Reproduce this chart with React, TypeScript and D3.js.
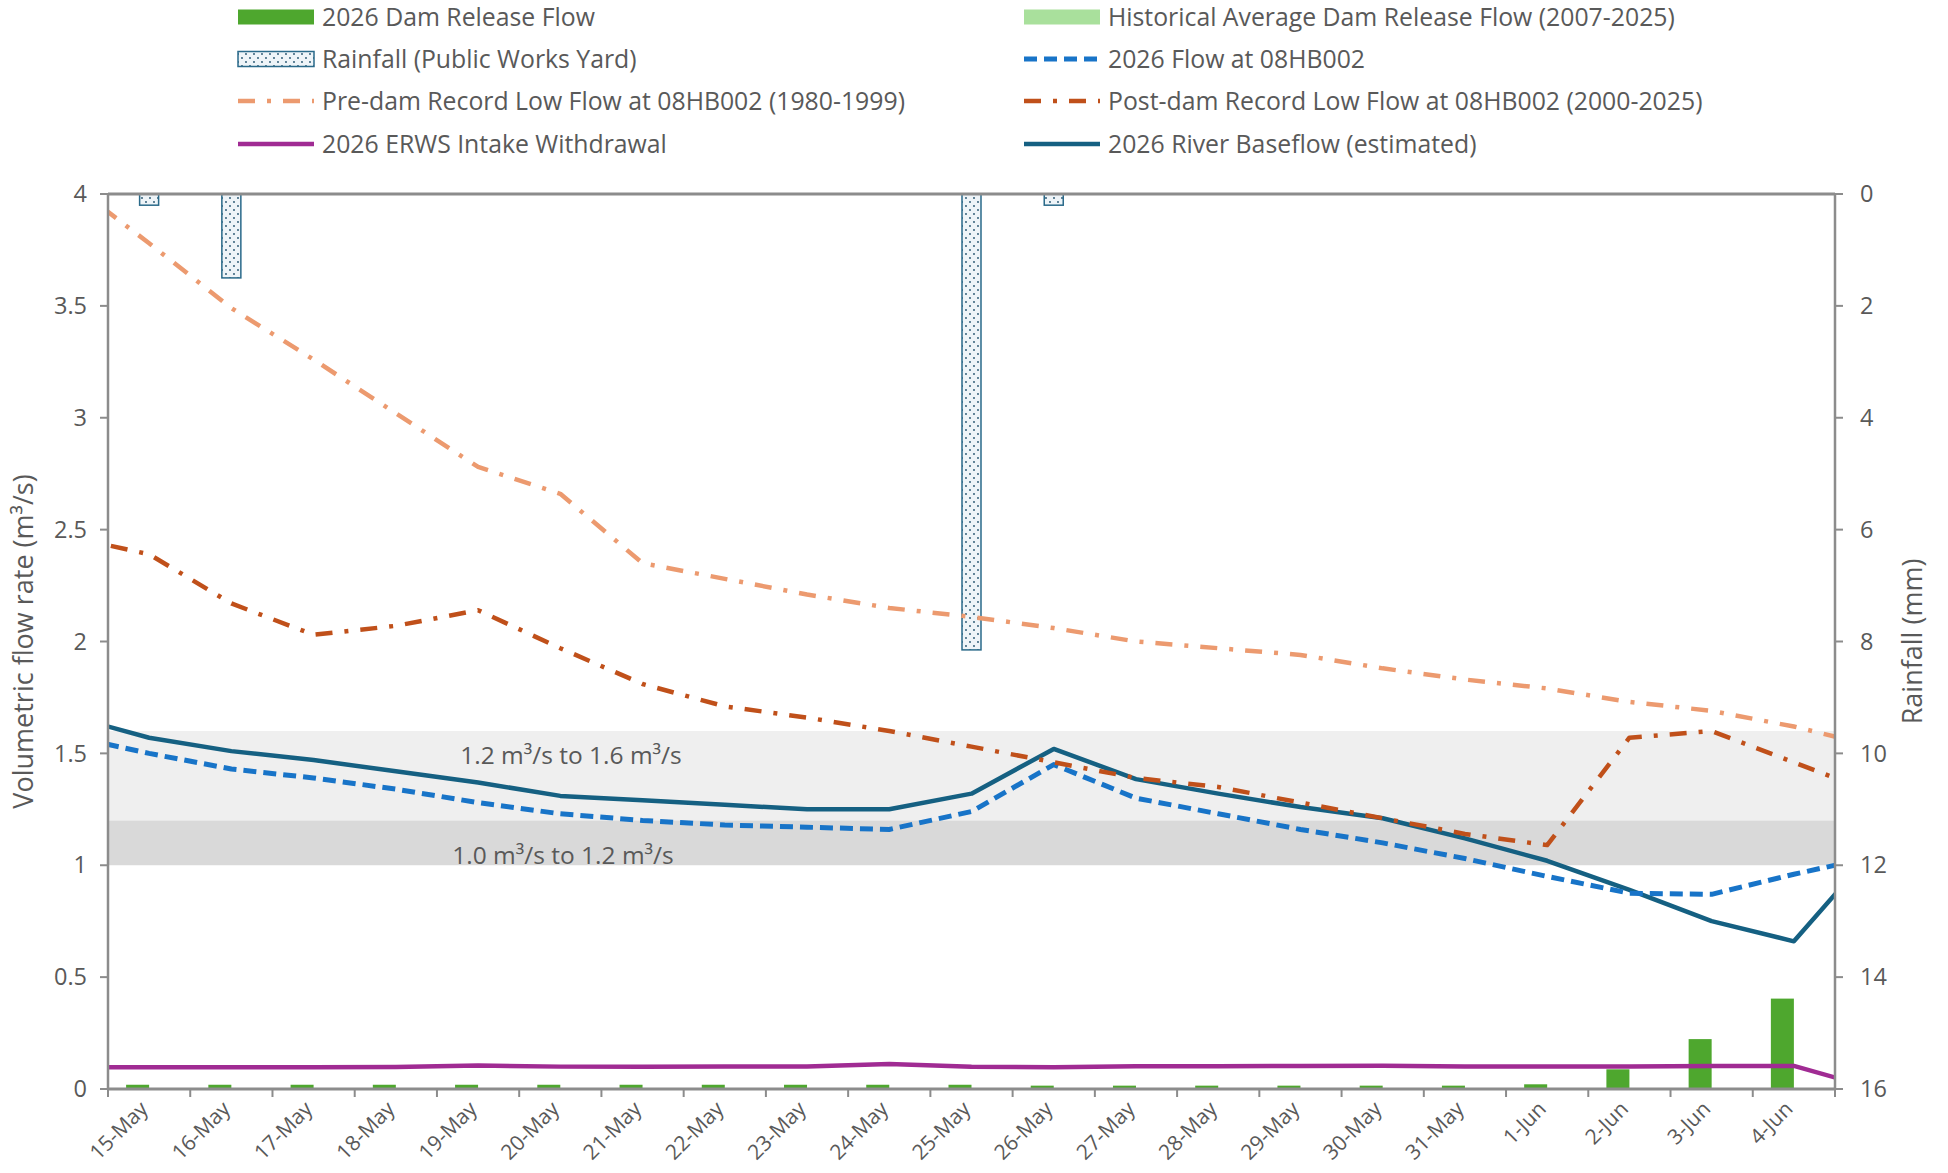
import React from 'react';
import * as d3 from 'd3';

// x categories (daily)
const categories = [
  '15-May', '16-May', '17-May', '18-May', '19-May', '20-May', '21-May', '22-May',
  '23-May', '24-May', '25-May', '26-May', '27-May', '28-May', '29-May', '30-May',
  '31-May', '1-Jun', '2-Jun', '3-Jun', '4-Jun',
];
// line series carry one extra day on each side (clipped at the plot edges)
const lineDates = ['14-May', ...categories, '5-Jun'];

// bars, m3/s
const damRelease = [
  0.019, 0.019, 0.019, 0.019, 0.019, 0.019, 0.019, 0.019, 0.019, 0.019, 0.019,
  0.015, 0.015, 0.015, 0.015, 0.015, 0.015, 0.021, 0.088, 0.223, 0.404,
];
const historicalAvgRelease = [
  0, 0, 0, 0, 0, 0, 0, 0, 0, 0, 0, 0, 0, 0, 0, 0, 0, 0, 0, 0, 0,
];
// rainfall, mm (secondary axis, reversed)
const rainfall = [
  0.2, 1.5, 0, 0, 0, 0, 0, 0, 0, 0, 8.15, 0.2, 0, 0, 0, 0, 0, 0, 0, 0, 0,
];

// lines, m3/s (14-May .. 5-Jun)
const flow08HB002 = [
  1.58, 1.5, 1.43, 1.39, 1.34, 1.28, 1.23, 1.2, 1.18, 1.17, 1.16, 1.24, 1.45,
  1.3, 1.23, 1.16, 1.1, 1.03, 0.95, 0.875, 0.87, 0.96, 1.04,
];
const preDamLow = [
  4.06, 3.78, 3.49, 3.26, 3.02, 2.78, 2.66, 2.35, 2.28, 2.21, 2.15, 2.11, 2.06,
  2.0, 1.97, 1.94, 1.88, 1.83, 1.79, 1.73, 1.69, 1.62, 1.53,
];
const postDamLow = [
  2.47, 2.39, 2.17, 2.03, 2.07, 2.14, 1.97, 1.81, 1.71, 1.66, 1.6, 1.53, 1.46,
  1.39, 1.35, 1.28, 1.21, 1.14, 1.09, 1.57, 1.6, 1.46, 1.32,
];
const erwsWithdrawal = [
  0.098, 0.097, 0.097, 0.097, 0.098, 0.105, 0.1, 0.1, 0.101, 0.101, 0.112, 0.099,
  0.097, 0.102, 0.102, 0.103, 0.104, 0.101, 0.101, 0.101, 0.103, 0.103, 0.0,
];
const riverBaseflow = [
  1.67, 1.57, 1.51, 1.47, 1.42, 1.37, 1.31, 1.29, 1.27, 1.25, 1.25, 1.32, 1.52,
  1.385, 1.32, 1.26, 1.21, 1.12, 1.02, 0.89, 0.75, 0.66, 1.08,
];

const leftTicks = [0, 0.5, 1, 1.5, 2, 2.5, 3, 3.5, 4];
const rightTicks = [0, 2, 4, 6, 8, 10, 12, 14, 16];

const bands = [
  { from: 1.2, to: 1.6, label: '1.2 m³/s to 1.6 m³/s', fill: '#efefef', labelAt: 1.49, labelX: 571 },
  { from: 1.0, to: 1.2, label: '1.0 m³/s to 1.2 m³/s', fill: '#d9d9d9', labelAt: 1.045, labelX: 563 },
];

const W = 1948;
const H = 1173;
const M = { left: 108, right: 1835, top: 194, bottom: 1089 };
const FONT = "'Open Sans', 'Noto Sans', sans-serif";
const TEXT = '#595959';
const AXIS = '#8c8c8c';

const C = {
  release: '#4ea72e',
  historical: '#a9e09c',
  rainFill: '#eef4f8',
  rainDot: '#1f4e6b',
  rainEdge: '#2a6a8a',
  flow: '#1874c8',
  pre: '#ec9a6f',
  post: '#c0501a',
  erws: '#a02b93',
  base: '#156082',
};

const lineStyles = {
  flow: { stroke: C.flow, width: 5, dash: '13 7' },
  pre: { stroke: C.pre, width: 4.5, dash: '17 12 4 12' },
  post: { stroke: C.post, width: 4.5, dash: '17 12 4 12' },
  erws: { stroke: C.erws, width: 4.5, dash: undefined },
  base: { stroke: C.base, width: 4.5, dash: undefined },
};

type LegendItem = { label: string; kind: 'rect' | 'rain' | 'line'; color?: string; style?: keyof typeof lineStyles };

const legendCols: LegendItem[][] = [
  [
    { label: '2026 Dam Release Flow', kind: 'rect', color: C.release },
    { label: 'Rainfall (Public Works Yard)', kind: 'rain' },
    { label: 'Pre-dam Record Low Flow at 08HB002 (1980-1999)', kind: 'line', style: 'pre' },
    { label: '2026 ERWS Intake Withdrawal', kind: 'line', style: 'erws' },
  ],
  [
    { label: 'Historical Average Dam Release Flow (2007-2025)', kind: 'rect', color: C.historical },
    { label: '2026 Flow at 08HB002', kind: 'line', style: 'flow' },
    { label: 'Post-dam Record Low Flow at 08HB002 (2000-2025)', kind: 'line', style: 'post' },
    { label: '2026 River Baseflow (estimated)', kind: 'line', style: 'base' },
  ],
];

export default function App() {
  const x = d3.scaleBand<string>().domain(categories).range([M.left, M.right]).padding(0);
  const xIdx = d3.scaleLinear().domain([-0.5, categories.length - 0.5]).range([M.left, M.right]);
  const y = d3.scaleLinear().domain([0, 4]).range([M.bottom, M.top]);
  const yR = d3.scaleLinear().domain([0, 16]).range([M.top, M.bottom]);
  const xCluster = d3.scaleBand<string>()
    .domain(['release', 'historical'])
    .range([0, x.bandwidth()])
    .paddingInner(0)
    .paddingOuter(0.787);
  const xRain = d3.scaleBand<string>()
    .domain(categories)
    .range([M.left, M.right])
    .paddingInner(0.769)
    .paddingOuter(0.3845);

  // index 0 of each line array is the day before the first category
  const line = d3.line<number>()
    .x((_, i) => xIdx(i - 1))
    .y((d) => y(d));

  const series: { key: keyof typeof lineStyles; values: number[] }[] = [
    { key: 'erws', values: erwsWithdrawal },
    { key: 'base', values: riverBaseflow },
    { key: 'flow', values: flow08HB002 },
    { key: 'pre', values: preDamLow },
    { key: 'post', values: postDamLow },
  ];

  const legendX = [238, 1024];
  const legendY = [17, 59, 101, 144];
  const swW = 76;

  return (
    <div style={{ position: 'absolute', left: 0, top: 0 }}>
      <svg width={W} height={H} style={{ display: 'block', background: '#fff' }} fontFamily={FONT}>
        <defs>
          <clipPath id="plot-clip">
            <rect x={M.left} y={M.top} width={M.right - M.left} height={M.bottom - M.top} />
          </clipPath>
          <pattern id="rain-dots" width={8} height={8} patternUnits="userSpaceOnUse">
            <rect width={8} height={8} fill={C.rainFill} />
            <circle cx={2} cy={2} r={0.9} fill={C.rainDot} />
            <circle cx={6} cy={6} r={0.9} fill={C.rainDot} />
          </pattern>
        </defs>

        {/* target bands */}
        {bands.map((b) => (
          <rect key={b.label} x={M.left} y={y(b.to)} width={M.right - M.left}
            height={y(b.from) - y(b.to)} fill={b.fill} />
        ))}
        {bands.map((b) => (
          <text key={b.label + 't'} x={b.labelX} y={y(b.labelAt)}
            dy="0.35em" textAnchor="middle" fontSize={24.5} fill={TEXT}>
            {b.label}
          </text>
        ))}

        {/* dam release bars */}
        {categories.map((c, i) => (
          <g key={c}>
            <rect x={(x(c) ?? 0) + (xCluster('release') ?? 0)} y={y(damRelease[i])}
              width={xCluster.bandwidth()} height={y(0) - y(damRelease[i])} fill={C.release} />
            <rect x={(x(c) ?? 0) + (xCluster('historical') ?? 0)} y={y(historicalAvgRelease[i])}
              width={xCluster.bandwidth()} height={y(0) - y(historicalAvgRelease[i])} fill={C.historical} />
          </g>
        ))}

        {/* rainfall bars hanging from the top */}
        {categories.map((c, i) => rainfall[i] > 0 && (
          <rect key={c + 'r'} x={xRain(c)} y={yR(0)} width={xRain.bandwidth()} height={yR(rainfall[i]) - yR(0)}
            fill="url(#rain-dots)" stroke={C.rainEdge} strokeWidth={1.5} />
        ))}

        {/* lines */}
        <g clipPath="url(#plot-clip)">
          {series.map((s) => {
            const st = lineStyles[s.key];
            return (
              <path key={s.key} d={line(s.values) ?? ''} fill="none" stroke={st.stroke}
                strokeWidth={st.width} strokeDasharray={st.dash} strokeLinejoin="round" />
            );
          })}
        </g>

        {/* axes */}
        <line x1={M.left} x2={M.right} y1={M.top} y2={M.top} stroke={AXIS} strokeWidth={3} />
        <line x1={M.left} x2={M.right} y1={M.bottom} y2={M.bottom} stroke={AXIS} strokeWidth={3} />
        <line x1={M.left} x2={M.left} y1={M.top} y2={M.bottom} stroke={AXIS} strokeWidth={2.5} />
        <line x1={M.right} x2={M.right} y1={M.top} y2={M.bottom} stroke={AXIS} strokeWidth={2.5} />

        {leftTicks.map((t) => (
          <g key={'l' + t}>
            <line x1={M.left - 8} x2={M.left} y1={y(t)} y2={y(t)} stroke={AXIS} strokeWidth={2} />
            <text x={87} y={y(t)} dy="0.35em" textAnchor="end" fontSize={23.5} fill={TEXT}>{t}</text>
          </g>
        ))}
        {rightTicks.map((t) => (
          <g key={'r' + t}>
            <line x1={M.right} x2={M.right + 8} y1={yR(t)} y2={yR(t)} stroke={AXIS} strokeWidth={2} />
            <text x={1860} y={yR(t)} dy="0.35em" textAnchor="start" fontSize={23.5} fill={TEXT}>{t}</text>
          </g>
        ))}
        {d3.range(categories.length + 1).map((i) => {
          const tx = M.left + i * x.step();
          return <line key={'xt' + i} x1={tx} x2={tx} y1={M.bottom} y2={M.bottom + 8} stroke={AXIS} strokeWidth={2} />;
        })}
        {categories.map((c) => {
          const cx = (x(c) ?? 0) + x.bandwidth() / 2 - 5;
          const cy = M.bottom + 16;
          return (
            <text key={c + 'lab'} x={cx} y={cy} transform={`rotate(-45 ${cx} ${cy})`} textAnchor="end"
              dy="0.35em" fontSize={21} fill={TEXT}>
              {c}
            </text>
          );
        })}

        {/* axis titles */}
        <text transform={`translate(33, ${(M.top + M.bottom) / 2}) rotate(-90)`} textAnchor="middle"
          fontSize={27} fill={TEXT}>
          Volumetric flow rate (m³/s)
        </text>
        <text transform={`translate(1922, ${(M.top + M.bottom) / 2}) rotate(-90)`} textAnchor="middle"
          fontSize={27} fill={TEXT}>
          Rainfall (mm)
        </text>

        {/* legend */}
        {legendCols.map((col, ci) => col.map((item, ri) => {
          const lx = legendX[ci];
          const ly = legendY[ri];
          let sw: React.ReactNode = null;
          if (item.kind === 'rect') {
            sw = <rect x={lx} y={ly - 7.5} width={swW} height={15} fill={item.color} />;
          } else if (item.kind === 'rain') {
            sw = <rect x={lx} y={ly - 7.5} width={swW} height={15} fill="url(#rain-dots)" stroke={C.rainEdge} strokeWidth={1.5} />;
          } else if (item.style) {
            const st = lineStyles[item.style];
            sw = <line x1={lx} x2={lx + swW} y1={ly} y2={ly} stroke={st.stroke} strokeWidth={st.width}
              strokeDasharray={st.dash} />;
          }
          return (
            <g key={item.label}>
              {sw}
              <text x={lx + swW + 8} y={ly} dy="0.35em" fontSize={24.8} fill={TEXT}>{item.label}</text>
            </g>
          );
        }))}
      </svg>
    </div>
  );
}
